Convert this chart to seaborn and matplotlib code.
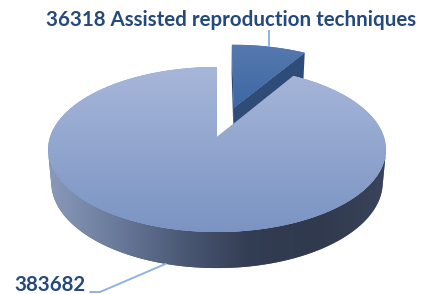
import numpy as np
import matplotlib
matplotlib.use("Agg")
import matplotlib.pyplot as plt
from matplotlib.transforms import Transform, Affine2D
from matplotlib.path import Path
from matplotlib.patches import Polygon
import seaborn as sns

# ---- data ----
categories = ["Assisted reproduction techniques", "Other"]
values = [36318, 383682]
label_texts = ["36318 Assisted reproduction techniques", "383682"]
explode = [0.4, 0.0]

# ---- colours ----
top_colors = [("#3c68a4", "#5679ae"), ("#7b94c3", "#a7b7d9")]   # (bottom, top)
face_colors = ["#2f4b77", "#3a4660"]
wall_colors = ["#8a9aba", "#6a7a9a", "#4b5976", "#333d53", "#30394d", "#39435a"]
text_color = "#24497c"
leader_color = "#8db4e2"

W, H = 429, 294
sns.set_theme(style="white")
plt.rcParams["font.family"] = ["Lato", "DejaVu Sans"]

# ---- 3D view (perspective) ----
S, C = 0.483, 0.876      # sin / cos of elevation
DIST = 5.78
FOCAL = 965.0
CX, CY = 217.0, 157.0
DEPTH = 0.226
CAM = np.array([0.0, -DIST * C, DIST * S])


def project(x, y, z):
    x = np.asarray(x, float)
    y = np.asarray(y, float)
    z = np.broadcast_to(np.asarray(z, float), x.shape)
    d = y * C - z * S + DIST
    sx = FOCAL * x / d
    sy = FOCAL * (y * S + z * C) / d
    return np.column_stack([CX + sx, CY + sy])


class Tilt(Transform):
    input_dims = output_dims = 2

    def __init__(self, z=0.0):
        super().__init__()
        self.z = z

    def transform_non_affine(self, values):
        v = np.asarray(values, float).reshape(-1, 2)
        return project(v[:, 0], v[:, 1], self.z)

    def transform_path_non_affine(self, path):
        k = 2000.0
        polys = path.to_polygons(transform=Affine2D().scale(k), closed_only=False)
        verts, codes = [], []
        for p in polys:
            p = np.asarray(p) / k
            verts.append(self.transform_non_affine(p))
            c = np.full(len(p), Path.LINETO, dtype=Path.code_type)
            c[0] = Path.MOVETO
            codes.append(c)
        return Path(np.concatenate(verts), np.concatenate(codes))


fig = plt.figure(figsize=(W / 100, H / 100), dpi=100)
ax = fig.add_axes([0, 0, 1, 1])
wedges, _ = ax.pie(values, explode=explode, startangle=90, counterclock=False,
                   radius=1.0, wedgeprops=dict(linewidth=0))

wall_cmap = sns.blend_palette(wall_colors, as_cmap=True)


def grad_image(poly_xy, c0, c1, horizontal, z, clip):
    x0, y0 = poly_xy.min(axis=0)
    x1, y1 = poly_xy.max(axis=0)
    if horizontal:
        arr = wall_cmap((np.linspace(x0, x1, 256) - 48) / (384 - 48))[None, :, :3]
    else:
        cm = sns.blend_palette([c0, c1], as_cmap=True)
        arr = cm(np.linspace(0, 1, 256))[:, None, :3]
    im = ax.imshow(arr, extent=(x0, x1, y0, y1), origin="lower", aspect="auto",
                   interpolation="bilinear", zorder=z)
    im.set_clip_path(clip)
    return im


# farther wedges drawn first
order = sorted(range(len(wedges)), key=lambda i: -wedges[i].center[1])

for rank, i in enumerate(order):
    w = wedges[i]
    base = 10 * rank
    cx, cy = w.center
    t1, t2 = np.radians(w.theta1), np.radians(w.theta2)

    # radial cut faces
    for t, sgn in ((t1, 1), (t2, -1)):
        n = np.array([sgn * np.sin(t), -sgn * np.cos(t), 0.0])
        if np.dot(n, CAM - np.array([cx, cy, 0.0])) <= 0:
            continue
        ex, ey = cx + np.cos(t), cy + np.sin(t)
        pts = np.vstack([project([cx, ex], [cy, ey], 0.0),
                         project([ex, cx], [ey, cy], -DEPTH)])
        ax.add_patch(Polygon(pts, closed=True, facecolor=face_colors[i],
                             edgecolor="none", zorder=base + 1))

    # outer wall, visible part
    ang = np.linspace(t1, t2, 600)
    px, py = cx + np.cos(ang), cy + np.sin(ang)
    vis = (np.cos(ang) * (CAM[0] - px) + np.sin(ang) * (CAM[1] - py)) > 0
    idx = np.flatnonzero(vis)
    if idx.size:
        runs = np.split(idx, np.flatnonzero(np.diff(idx) > 1) + 1)
        for r in runs:
            a = ang[r]
            top = project(cx + np.cos(a), cy + np.sin(a), 0.0)
            bot = project(cx + np.cos(a[::-1]), cy + np.sin(a[::-1]), -DEPTH)
            pts = np.vstack([top, bot])
            poly = Polygon(pts, closed=True, facecolor=wall_colors[2],
                           edgecolor="none", zorder=base + 2)
            ax.add_patch(poly)
            grad_image(pts, None, None, True, base + 2.5, poly)

    # top face
    w.set_transform(Tilt(0.0) + ax.transData)
    w.set_facecolor(top_colors[i][0])
    w.set_zorder(base + 3)
    a = np.linspace(t1, t2, 400)
    tp = np.vstack([project([cx], [cy], 0.0),
                    project(cx + np.cos(a), cy + np.sin(a), 0.0)])
    grad_image(tp, top_colors[i][0], top_colors[i][1], False, base + 3.5, w)

# ---- labels with leader lines ----
small = wedges[0]
mid = np.radians((small.theta1 + small.theta2) / 2)
anchor = project([small.center[0] + np.cos(mid)], [small.center[1] + np.sin(mid)], 0.0)[0]
ax.plot([anchor[0], anchor[0]], [anchor[1], 264], color=leader_color, lw=1.4, zorder=50,
        solid_capstyle="butt")
ax.text(231, 274, label_texts[0], ha="center", va="center", fontsize=14.8,
        fontweight="bold", color=text_color, zorder=51)

big = wedges[1]
midb = np.radians((big.theta1 + big.theta2) / 2)
anchor2 = project([big.center[0] + np.cos(midb)], [big.center[1] + np.sin(midb)], -DEPTH)[0]
ax.plot([anchor2[0], 100, 90], [anchor2[1], 2, 2], color=leader_color, lw=1.4, zorder=50)
ax.text(14, 9, label_texts[1], ha="left", va="center", fontsize=14.8,
        fontweight="bold", color=text_color, zorder=51)

ax.set_aspect("auto")
ax.set_xlim(0, W)
ax.set_ylim(0, H)
ax.axis("off")
fig.savefig("out.png", dpi=100)
